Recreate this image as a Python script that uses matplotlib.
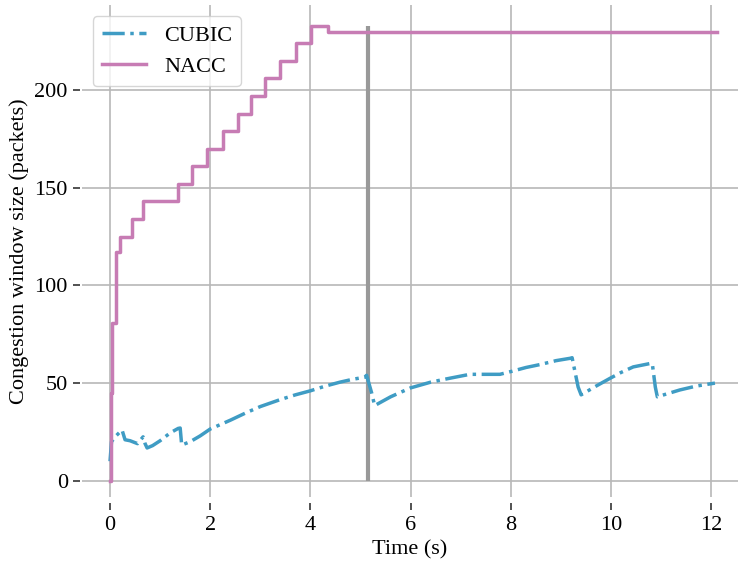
import matplotlib
matplotlib.use('Agg')
import matplotlib.pyplot as plt
import numpy as np

plt.rcParams['font.family'] = ['Liberation Serif', 'DejaVu Serif']
plt.rcParams['font.size'] = 16

# CUBIC congestion window
cubic_t = [0.0, 0.03, 0.12, 0.24, 0.30, 0.40, 0.55, 0.66, 0.70, 0.74, 0.85, 1.0,
           1.2, 1.36, 1.40, 1.43, 1.6, 1.8, 2.0, 2.4, 2.73, 3.0, 3.39, 3.7, 3.99,
           4.3, 4.59, 4.85, 5.08, 5.12, 5.22, 5.28, 5.6, 5.99, 6.4, 6.78, 7.18,
           7.78, 8.01, 8.3, 8.58, 8.9, 9.18, 9.22, 9.34, 9.40, 9.7, 9.98, 10.2,
           10.44, 10.77, 10.82, 10.88, 10.92, 11.37, 11.7, 12.07]
cubic_cwnd = [10, 20, 23, 26, 21, 20.5, 19, 22.5, 19, 16.8, 18, 20.5,
              24.5, 26.8, 27, 18.3, 20, 23, 26.5, 31, 35, 38, 41.5, 44, 46,
              48.5, 50.5, 52, 53, 54, 45, 38.5, 43, 47.5, 50.5, 52.5, 54.5,
              54.5, 56, 58, 59.5, 61.5, 62.7, 63, 48, 44, 48.5, 52.5, 55.5,
              58.3, 60, 60, 48, 43, 46.5, 48.5, 50]

# NACC congestion window (staircase)
nacc_t = [0.0, 0.02, 0.045, 0.11, 0.2, 0.43, 0.66, 1.35, 1.63, 1.93, 2.26, 2.56,
          2.82, 3.09, 3.39, 3.72, 4.02, 4.35, 12.11]
nacc_cwnd = [0, 45, 81, 117, 125, 134, 143, 152, 161, 170, 179, 188,
             197, 206, 215, 224, 233, 230, 230]

event_t = 5.15
event_top = 233

fig = plt.figure(figsize=(7.38, 5.67), dpi=100)
ax = fig.add_axes([0.1107, 0.1235, 0.8893, 0.8677])

ax.vlines(event_t, 0, event_top, color='#999999', lw=3, zorder=2)
ax.plot(cubic_t, cubic_cwnd, '-.', color='#3f9cc4', lw=2.5, label='CUBIC', zorder=3)
ax.plot(nacc_t, nacc_cwnd, '-', color='#c77cb4', lw=2.5, drawstyle='steps-post',
        label='NACC', zorder=3)

ax.set_xlim(-0.565, 12.53)
ax.set_ylim(-8.3, 243.6)
ax.set_xticks([0, 2, 4, 6, 8, 10, 12])
ax.set_yticks([0, 50, 100, 150, 200])

ax.grid(True, color='#b8b8b8', lw=1.2, zorder=0)
ax.set_axisbelow(True)
for s in ['top', 'right']:
    ax.spines[s].set_visible(False)
ax.spines['bottom'].set_position(('outward', 4.5))
ax.spines['left'].set_position(('outward', 1))
ax.spines['bottom'].set_visible(False)
ax.spines['left'].set_visible(False)
ax.tick_params(length=5, width=1.1, color='#222222', pad=4)

ax.set_xlabel('Time (s)')
ax.set_ylabel('Congestion window size (packets)')

leg = ax.legend(loc='upper left', frameon=True, fancybox=True)
leg.get_frame().set_edgecolor('#cccccc')

fig.savefig('out.png', dpi=100)
